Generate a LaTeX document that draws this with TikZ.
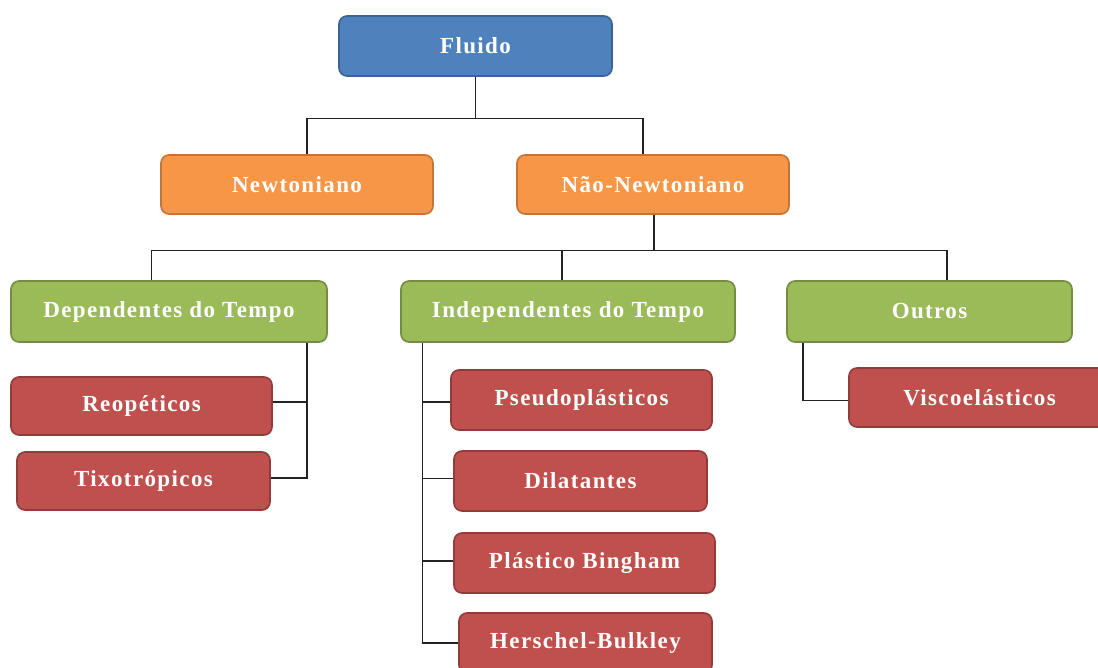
\documentclass[tikz,border=0pt]{standalone}
\usepackage{fontspec}
\setmainfont{Liberation Serif}[LetterSpace=6]
\definecolor{blueFill}{HTML}{4F81BD}
\definecolor{blueLine}{HTML}{3A6396}
\definecolor{orangeFill}{HTML}{F79646}
\definecolor{orangeLine}{HTML}{C0753A}
\definecolor{greenFill}{HTML}{9BBB59}
\definecolor{greenLine}{HTML}{748D42}
\definecolor{redFill}{HTML}{C0504D}
\definecolor{redLine}{HTML}{8F3C3A}
\definecolor{wire}{HTML}{222222}
\begin{document}
\begin{tikzpicture}[x=1pt,y=-1pt,
  cbox/.style={draw, line width=1.6pt, rounded corners=8pt, inner sep=0pt,
    text=white, font=\fontsize{23}{27}\selectfont\bfseries},
  bluebox/.style={cbox, fill=blueFill, draw=blueLine},
  orangebox/.style={cbox, fill=orangeFill, draw=orangeLine},
  greenbox/.style={cbox, fill=greenFill, draw=greenLine},
  redbox/.style={cbox, fill=redFill, draw=redLine},
  conn/.style={draw=wire, line width=1.5pt}]
\useasboundingbox (0,0) rectangle (1098,668);

% root
\node[bluebox, minimum width=273pt, minimum height=60pt] (fluido) at (475.5,46) {Fluido};

% first level
\node[orangebox, minimum width=272pt, minimum height=59pt] (newt) at (297,184.5) {Newtoniano};
\node[orangebox, minimum width=272pt, minimum height=59pt] (nnewt) at (653,184.5) {Não-Newtoniano};

% second level
\node[greenbox, minimum width=316pt, minimum height=61pt] (dep) at (169,311.5) {Dependentes do Tempo};
\node[greenbox, minimum width=334pt, minimum height=61pt] (indep) at (568,311.5) {Independentes do Tempo};
\node[greenbox, minimum width=285pt, minimum height=61pt] (outros) at (929.5,311.5) {Outros};

% time dependent
\node[redbox, minimum width=261pt, minimum height=58pt] (reo) at (141.5,406) {Reopéticos};
\node[redbox, minimum width=253pt, minimum height=58pt] (tixo) at (143.5,481) {Tixotrópicos};

% time independent
\node[redbox, minimum width=261pt, minimum height=60pt] (pseudo) at (581.5,400) {Pseudoplásticos};
\node[redbox, minimum width=253pt, minimum height=60pt] (dila) at (580.5,481) {Dilatantes};
\node[redbox, minimum width=261pt, minimum height=60pt] (bing) at (584.5,563) {Plástico Bingham};
\node[redbox, minimum width=253pt, minimum height=60pt] (hb) at (585.5,643) {Herschel-Bulkley};

% others
\node[redbox, minimum width=261pt, minimum height=59pt] (visco) at (979.5,397.5) {Viscoelásticos};

% root to first level
\coordinate (j1) at (475.5,118.3);
\draw[conn] (fluido.south) -- (j1);
\draw[conn] (j1) -| ([xshift=10pt]newt.north);
\draw[conn] (j1) -| ([xshift=-10pt]nnewt.north);

% first level to second level
\coordinate (j2) at (654,250.7);
\draw[conn] ([xshift=1pt]nnewt.south) -- (j2);
\draw[conn] (j2) -| ([xshift=-17.5pt]dep.north);
\draw[conn] (j2) -| ([xshift=-6pt]indep.north);
\draw[conn] (j2) -| ([xshift=17.5pt]outros.north);

% time dependent branch
\coordinate (d1) at ([xshift=138pt]dep.south);
\draw[conn] (d1) |- ([yshift=3pt]tixo.east);
\draw[conn] ([yshift=4pt]reo.east) -- ([yshift=4pt]reo.east -| d1);

% time independent branch
\coordinate (i1) at ([xshift=22.5pt]indep.south west);
\draw[conn] (i1) |- (hb.west);
\draw[conn] ([yshift=-2pt]pseudo.west) -- ([yshift=-2pt]pseudo.west -| i1);
\draw[conn] ([yshift=2.5pt]dila.west) -- ([yshift=2.5pt]dila.west -| i1);
\draw[conn] ([yshift=2pt]bing.west) -- ([yshift=2pt]bing.west -| i1);

% others branch
\draw[conn] ([xshift=17pt]outros.south west) |- ([yshift=-3pt]visco.west);
\end{tikzpicture}
\end{document}
